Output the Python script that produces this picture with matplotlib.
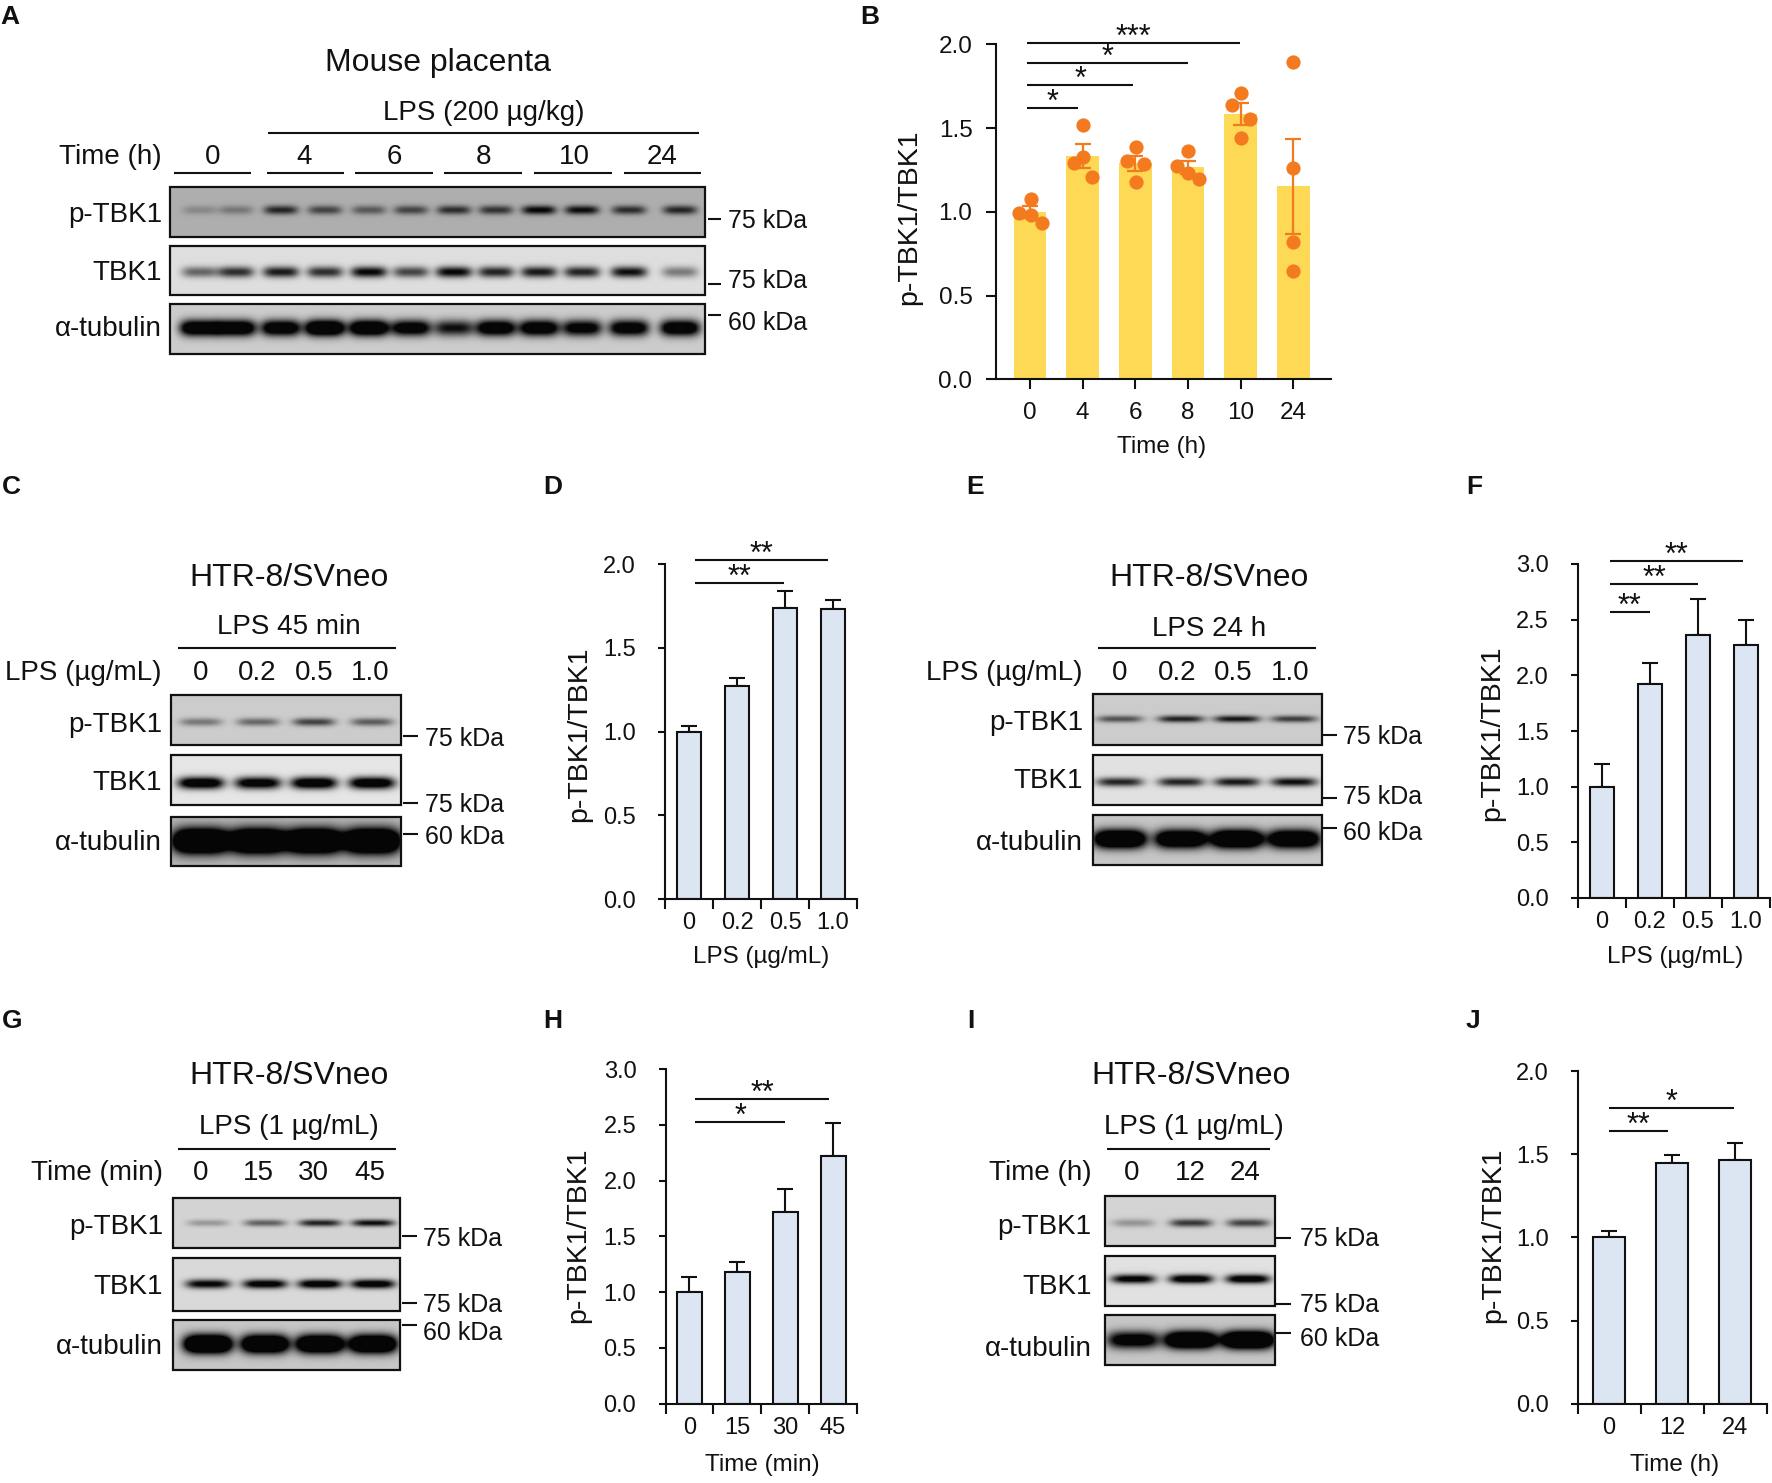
import numpy as np
import matplotlib
matplotlib.use('Agg')
import matplotlib.pyplot as plt
from matplotlib.patches import Rectangle

plt.rcParams['font.family'] = ['Liberation Sans', 'DejaVu Sans']

W, H = 1772, 1483
BLACK = '#111111'

# ── Bar chart values ──────────────────────────────────────────────────────────
B_LABELS = ['0', '4', '6', '8', '10', '24']
B_MEAN = [1.0, 1.333, 1.29, 1.266, 1.582, 1.152]
B_ERR = [0.035, 0.07, 0.045, 0.04, 0.065, 0.285]
B_POINTS = [[1.077, 0.991, 0.981, 0.933], [1.516, 1.329, 1.29, 1.21],
            [1.389, 1.301, 1.288, 1.18], [1.365, 1.276, 1.232, 1.198],
            [1.711, 1.638, 1.552, 1.439], [1.896, 1.264, 0.818, 0.647]]
B_JITTER = [[0.01, -0.21, 0.01, 0.22], [0.0, 0.0, -0.165, 0.184],
            [0.01, -0.165, 0.17, 0.01], [0.006, -0.215, 0.006, 0.215],
            [0.006, -0.165, 0.17, 0.006], [0.0, 0.0, 0.0, 0.0]]

D_LABELS = ['0', '0.2', '0.5', '1.0']
D_MEAN = [1.0, 1.27, 1.74, 1.73]
D_TOP = [1.035, 1.32, 1.84, 1.785]

F_LABELS = ['0', '0.2', '0.5', '1.0']
F_MEAN = [1.0, 1.92, 2.36, 2.27]
F_TOP = [1.2, 2.11, 2.69, 2.5]

H_LABELS = ['0', '15', '30', '45']
H_MEAN = [1.0, 1.18, 1.72, 2.22]
H_TOP = [1.14, 1.27, 1.92, 2.52]

J_LABELS = ['0', '12', '24']
J_MEAN = [1.0, 1.445, 1.463]
J_TOP = [1.04, 1.495, 1.57]

# significance brackets: start, end, height, label
B_SIG = [(-0.06, 3.99, 2.006, '***'), (-0.06, 3.0, 1.887, '*'),
         (-0.06, 1.96, 1.757, '*'), (-0.06, 0.92, 1.618, '*')]
D_SIG = [(0.125, 2.9, 2.025, '**'), (0.125, 1.98, 1.887, '**')]
F_SIG = [(0.16, 2.93, 3.03, '**'), (0.16, 2.01, 2.82, '**'), (0.16, 1.0, 2.57, '**')]
H_SIG = [(0.125, 2.92, 2.73, '**'), (0.125, 1.99, 2.525, '*')]
J_SIG = [(0.0, 1.98, 1.778, '*'), (0.0, 0.94, 1.637, '**')]

# ── Blot band strengths, one per lane ─────────────────────────────────────────
A_PTBK1 = [0.22, 0.32, 0.8, 0.62, 0.5, 0.62, 0.75, 0.72, 1.0, 0.95, 0.75, 0.8]
A_TBK1 = [0.55, 0.8, 0.9, 0.8, 1.0, 0.7, 1.0, 0.85, 0.9, 0.85, 0.95, 0.45]
A_TUB = [1.5, 1.5, 1.4, 1.7, 1.6, 1.3, 0.95, 1.4, 1.4, 1.2, 1.3, 1.4]
C_PTBK1 = [0.42, 0.5, 0.68, 0.55]
C_TBK1 = [1.3, 1.2, 1.3, 1.3]
C_TUB = [2.4, 2.4, 2.4, 2.4]
E_PTBK1 = [0.6, 0.85, 0.9, 0.7]
E_TBK1 = [0.85, 0.85, 0.9, 0.95]
E_TUB = [2.0, 1.8, 2.0, 1.8]
G_PTBK1 = [0.28, 0.55, 0.85, 0.95]
G_TBK1 = [1.05, 1.15, 1.2, 1.2]
G_TUB = [2.2, 2.0, 2.0, 2.0]
I_PTBK1 = [0.3, 0.75, 0.7]
I_TBK1 = [1.1, 1.2, 1.2]
I_TUB = [1.3, 2.0, 2.2]

fig = plt.figure(figsize=(W / 100, H / 100), dpi=100, facecolor='white')
ov = fig.add_axes([0, 0, 1, 1])
ov.set_xlim(0, W)
ov.set_ylim(H, 0)
ov.axis('off')


def txt(x, y, s, size=20, ha='center', **kw):
    ov.text(x, y + 1.5, s, fontsize=size, ha=ha, va='center', color=BLACK, **kw)


def hline(x0, x1, y, lw=1.5):
    ov.plot([x0, x1], [y, y], color=BLACK, lw=lw, solid_capstyle='butt')


def blot(box, lanes, strengths, yc, half_w, half_h, bg):
    x0, y0, x1, y1 = box
    xx, yy = np.meshgrid(np.arange(x0, x1) + 0.5, np.arange(y0, y1) + 0.5)
    d = np.zeros_like(xx, dtype=float)
    for lx, s in zip(lanes, strengths):
        d += s * np.exp(-((xx - lx) / half_w) ** 4) * np.exp(-((yy - yc) / half_h) ** 2)
    img = bg * (1 - np.clip(d, 0, 0.97))
    ov.imshow(img, cmap='gray', vmin=0, vmax=1, extent=(x0, x1, y1, y0),
              aspect='auto', interpolation='bilinear', zorder=1)
    ov.add_patch(Rectangle((x0, y0), x1 - x0, y1 - y0, fill=False, ec=BLACK, lw=1.6, zorder=2))


def kda(x0, x1, label_x, y_tick, y_text, s):
    ov.plot([x0, x1], [y_tick, y_tick], color=BLACK, lw=1.5, solid_capstyle='butt')
    txt(label_x, y_text, s, size=18, ha='left')


def stars(ax, sig, off=-2):
    for a, b, y, s in sig:
        ax.plot([a, b], [y, y], color=BLACK, lw=1.5, clip_on=False, solid_capstyle='butt')
        ax.annotate(s, xy=((a + b) / 2, y), xytext=(0, off), textcoords='offset points',
                    ha='center', va='baseline', fontsize=22, color=BLACK, annotation_clip=False)


def px_axes(x0, y0, x1, y1):
    a = fig.add_axes([x0 / W, 1 - y1 / H, (x1 - x0) / W, (y1 - y0) / H])
    a.patch.set_alpha(0)
    for s in ['top', 'right']:
        a.spines[s].set_visible(False)
    for s in ['left', 'bottom']:
        a.spines[s].set_linewidth(1.5)
        a.spines[s].set_color(BLACK)
    return a


def bar_panel(box, labels, mean, top, sig, ymax, ystep, xlabel, xlabel_xy, ylabel_xy, width=0.52):
    ax = px_axes(*box)
    n = len(mean)
    xs = np.arange(n)
    ax.bar(xs, mean, width=width, color='#dce6f2', edgecolor=BLACK, linewidth=1.5, zorder=2)
    ax.errorbar(xs, mean, yerr=[np.zeros(n), np.array(top) - np.array(mean)], fmt='none',
                ecolor=BLACK, elinewidth=1.5, capsize=5.8, capthick=1.5, zorder=1)
    ax.set_xlim(-0.5, n - 0.5)
    ax.set_ylim(0, ymax)
    ax.set_yticks(np.arange(0, ymax + 0.01, ystep))
    ax.set_yticklabels([f'{v:.1f}' for v in np.arange(0, ymax + 0.01, ystep)], fontsize=17, color=BLACK)
    ax.tick_params(axis='y', length=5, width=1.5, pad=16, color=BLACK)
    ax.set_xticks(np.arange(n + 1) - 0.5)
    ax.set_xticklabels([])
    ax.tick_params(axis='x', which='major', length=7.5, width=1.5, color=BLACK)
    ax.set_xticks(xs, labels, minor=True, fontsize=17, color=BLACK)
    ax.tick_params(axis='x', which='minor', length=0, pad=9.5)
    stars(ax, sig)
    txt(xlabel_xy[0], xlabel_xy[1], xlabel, size=17.5)
    txt(ylabel_xy[0], ylabel_xy[1], 'p-TBK1/TBK1', size=20.5, rotation=90)
    return ax


# ── Panel letters ─────────────────────────────────────────────────────────────
for s, x, y in [('A', 0, 16), ('B', 860, 16), ('C', 2, 486), ('D', 543, 486), ('E', 966, 486),
                ('F', 1466, 486), ('G', 2, 1019), ('H', 543, 1019), ('I', 967, 1019), ('J', 1466, 1019)]:
    txt(x, y, s, size=19, ha='left', fontweight='bold')

ROWS = ['p-TBK1', 'TBK1', 'α-tubulin']

# ── A ────────────────────────────────────────────────────────────────────────
txt(438, 61, 'Mouse placenta', size=23)
txt(484, 112, 'LPS (200 µg/kg)', size=20)
hline(268, 699, 132.7)
txt(162, 155, 'Time (h)', ha='right')
for s, x, a, b in zip(['0', '4', '6', '8', '10', '24'], [213, 304, 394, 484, 574, 662],
                      [174, 267, 355, 444, 534, 624], [251, 344, 433, 522, 612, 701]):
    txt(x, 155, s)
    hline(a, b, 173)
a_lanes = [200, 236, 281, 325, 369, 411, 454, 496, 539, 582, 629, 680]
blot((170, 187, 705, 237), a_lanes, A_PTBK1, 210, 17, 4.5, 0.68)
blot((170, 246, 705, 295), a_lanes, A_TBK1, 272, 18, 5.5, 0.87)
blot((170, 304, 705, 354), a_lanes, A_TUB, 328, 20, 8, 0.80)
for s, y in zip(ROWS, [213, 272, 328]):
    txt(162, y, s, ha='right')
kda(708, 721, 728, 219, 219, '75 kDa')
kda(708, 721, 728, 284, 280, '75 kDa')
kda(708, 721, 728, 315, 322, '60 kDa')

# ── B ────────────────────────────────────────────────────────────────────────
axb = px_axes(996, 44.3, 1330.7, 379.3)
xs_b = np.arange(len(B_MEAN))
axb.bar(xs_b, B_MEAN, width=0.62, color='#fdd955', zorder=1)
axb.errorbar(xs_b, B_MEAN, yerr=B_ERR, fmt='none', ecolor='#f47a20', elinewidth=1.6,
             capsize=6, capthick=1.6, zorder=2)
for i, (vals, jit) in enumerate(zip(B_POINTS, B_JITTER)):
    axb.scatter(i + np.array(jit), vals, s=105, color='#f47a20', linewidths=0, zorder=3, clip_on=False)
axb.set_xlim(-0.646, 5.71)
axb.set_ylim(0, 2)
axb.set_yticks([0, 0.5, 1, 1.5, 2], ['0.0', '0.5', '1.0', '1.5', '2.0'], fontsize=17.5, color=BLACK)
axb.set_xticks(xs_b, B_LABELS, fontsize=17.5, color=BLACK)
axb.tick_params(axis='y', length=7, width=1.5, pad=10, color=BLACK)
axb.tick_params(axis='x', length=7, width=1.5, pad=9.5, color=BLACK)
stars(axb, B_SIG)
txt(1161.7, 445, 'Time (h)', size=17.5)
txt(909, 216, 'p-TBK1/TBK1', size=20.5, rotation=90)

# ── C ────────────────────────────────────────────────────────────────────────
txt(289, 576, 'HTR-8/SVneo', size=23)
txt(289, 626, 'LPS 45 min')
hline(178, 396, 648)
txt(162, 672, 'LPS (µg/mL)', ha='right')
for s, x in zip(['0', '0.2', '0.5', '1.0'], [201, 257, 314, 370]):
    txt(x, 672, s)
c_lanes = [201, 258, 314, 372]
blot((171, 695, 401, 745), c_lanes, C_PTBK1, 722, 21, 4, 0.80)
blot((171, 755, 401, 805), c_lanes, C_TBK1, 783, 23, 6, 0.90)
blot((171, 817, 401, 866), c_lanes, C_TUB, 841, 28, 12, 0.72)
for s, y in zip(ROWS, [723, 782, 842]):
    txt(162, y, s, ha='right')
kda(403, 418, 425, 736, 737, '75 kDa')
kda(403, 418, 425, 803, 803, '75 kDa')
kda(403, 418, 425, 834, 835, '60 kDa')

bar_panel((665, 564.3, 857, 899), D_LABELS, D_MEAN, D_TOP, D_SIG, 2, 0.5,
          'LPS (µg/mL)', (761, 955), (579, 733))

# ── E ────────────────────────────────────────────────────────────────────────
txt(1209, 576, 'HTR-8/SVneo', size=23)
txt(1209, 627, 'LPS 24 h')
hline(1097.6, 1315.6, 648)
txt(1083, 672, 'LPS (µg/mL)', ha='right')
for s, x in zip(['0', '0.2', '0.5', '1.0'], [1120, 1177, 1233, 1290]):
    txt(x, 672, s)
e_lanes = [1120, 1181, 1237, 1294]
blot((1093, 694, 1322, 745), e_lanes, E_PTBK1, 719, 23, 3.5, 0.80)
blot((1093, 755, 1322, 805), e_lanes, E_TBK1, 782, 23, 4.5, 0.88)
blot((1093, 815, 1322, 865), e_lanes, E_TUB, 839, 26, 9, 0.78)
for s, y in zip(ROWS, [722, 780, 841]):
    txt(1083, y, s, ha='right')
kda(1323, 1337, 1343, 735, 735, '75 kDa')
kda(1323, 1337, 1343, 798, 796, '75 kDa')
kda(1323, 1337, 1343, 828, 832, '60 kDa')

bar_panel((1578, 564, 1770, 898), F_LABELS, F_MEAN, F_TOP, F_SIG, 3, 0.5,
          'LPS (µg/mL)', (1675, 955), (1492, 732))

# ── G ────────────────────────────────────────────────────────────────────────
txt(289, 1075, 'HTR-8/SVneo', size=23)
txt(289, 1126, 'LPS (1 µg/mL)')
hline(178, 396, 1149)
txt(163, 1172, 'Time (min)', ha='right')
for s, x in zip(['0', '15', '30', '45'], [201, 258, 313, 370]):
    txt(x, 1172, s)
g_lanes = [208, 265, 320, 373]
blot((173, 1198, 400, 1248), g_lanes, G_PTBK1, 1223, 21, 3.5, 0.83)
blot((173, 1258, 400, 1311), g_lanes, G_TBK1, 1284, 22, 4.5, 0.85)
blot((173, 1320, 400, 1370), g_lanes, G_TUB, 1344, 24, 9, 0.78)
for s, y in zip(ROWS, [1225, 1286, 1345]):
    txt(163, y, s, ha='right')
kda(402, 417, 423, 1236, 1237, '75 kDa')
kda(402, 417, 423, 1303, 1303, '75 kDa')
kda(402, 417, 423, 1325, 1331, '60 kDa')

bar_panel((665.5, 1069, 857, 1403.7), H_LABELS, H_MEAN, H_TOP, H_SIG, 3, 0.5,
          'Time (min)', (762, 1463), (578, 1234))

# ── I ────────────────────────────────────────────────────────────────────────
txt(1191, 1075, 'HTR-8/SVneo', size=23)
txt(1194, 1126, 'LPS (1 µg/mL)')
hline(1107, 1270, 1149)
txt(1091.6, 1172, 'Time (h)', ha='right')
for s, x in zip(['0', '12', '24'], [1132, 1190, 1245]):
    txt(x, 1172, s)
i_lanes = [1133.5, 1191, 1248]
blot((1105, 1196, 1275, 1246), i_lanes, I_PTBK1, 1223, 21, 4, 0.83)
blot((1105, 1256, 1275, 1306), i_lanes, I_TBK1, 1279, 22, 4.5, 0.88)
blot((1105, 1315, 1275, 1365), i_lanes, I_TUB, 1340, 26, 8.5, 0.78)
for s, y in zip(ROWS, [1226, 1285, 1347]):
    txt(1091.6, y, s, ha='right')
kda(1276, 1291, 1300, 1238, 1237, '75 kDa')
kda(1276, 1291, 1300, 1304, 1303, '75 kDa')
kda(1276, 1291, 1300, 1333, 1338, '60 kDa')

bar_panel((1577.7, 1071, 1766.5, 1403.7), J_LABELS, J_MEAN, J_TOP, J_SIG, 2, 0.5,
          'Time (h)', (1675, 1463), (1493, 1234), width=0.5)

ov.set_xlim(0, W)
ov.set_ylim(H, 0)
fig.savefig('out.png', dpi=100)
